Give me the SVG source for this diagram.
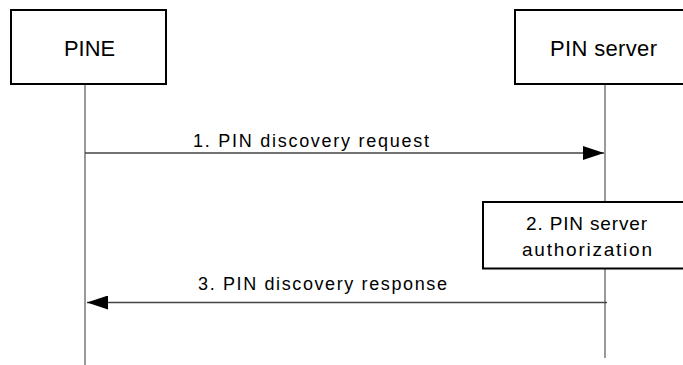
<svg xmlns="http://www.w3.org/2000/svg" width="683" height="365" viewBox="0 0 683 365">
  <style>
    .box { fill: #ffffff; stroke: #000000; stroke-width: 2; }
    .life { stroke: #555555; stroke-width: 1.2; fill: none; }
    .msg { stroke: #444444; stroke-width: 1.5; fill: none; }
    text { font-family: "Liberation Sans", Arial, sans-serif; fill: #000000; }
    .hdr { font-size: 22px; }
    .lbl { font-size: 18px; }
    .act { font-size: 19px; }
  </style>
  <defs>
    <marker id="arrow" viewBox="0 0 21 14" refX="21" refY="7" markerWidth="21" markerHeight="14" markerUnits="userSpaceOnUse" orient="auto">
      <polygon points="0,0 21,7 0,14" fill="#000000"/>
    </marker>
  </defs>
  <rect width="683" height="365" fill="#ffffff"/>

  <g id="lifelines">
    <line class="life" x1="85" y1="84" x2="85" y2="365"/>
    <line class="life" x1="605" y1="84" x2="605" y2="358"/>
  </g>

  <g id="node-pine">
    <rect class="box" x="11" y="10" width="155" height="74"/>
    <text class="hdr" x="64" y="56" textLength="51" lengthAdjust="spacingAndGlyphs">PINE</text>
  </g>

  <g id="node-pin-server">
    <rect class="box" x="515" y="10" width="180" height="74"/>
    <text class="hdr" x="550" y="56" textLength="107" lengthAdjust="spacing">PIN server</text>
  </g>

  <g id="connectors">
    <line class="msg" x1="85" y1="153" x2="604" y2="153" marker-end="url(#arrow)"/>
    <text class="lbl" x="193" y="146.5" textLength="236" lengthAdjust="spacing">1. PIN discovery request</text>
    <line class="msg" x1="607" y1="302.5" x2="87" y2="302.5" marker-end="url(#arrow)"/>
    <text class="lbl" x="198" y="290" textLength="249" lengthAdjust="spacing">3. PIN discovery response</text>
  </g>

  <g id="node-authorization">
    <rect class="box" x="483" y="202" width="210" height="66.5"/>
    <text class="act" x="526" y="229.5" textLength="121" lengthAdjust="spacing">2. PIN server</text>
    <text class="act" x="522" y="256" textLength="130" lengthAdjust="spacing">authorization</text>
  </g>
</svg>
